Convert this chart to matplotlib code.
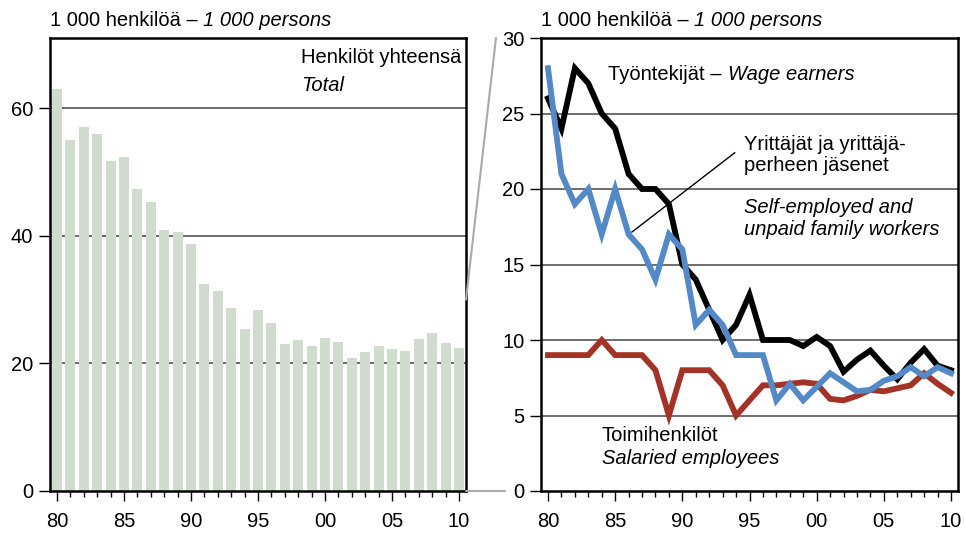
import matplotlib
matplotlib.use("Agg")
import matplotlib.pyplot as plt
from matplotlib.patches import ConnectionPatch
from matplotlib.ticker import MultipleLocator, FixedLocator

plt.rcParams['font.family'] = ['Liberation Sans', 'DejaVu Sans']

years = list(range(1980, 2011))
total = [63.0, 55.0, 57.0, 55.9, 51.8, 52.3, 47.3, 45.3, 40.9, 40.6,
         38.7, 32.4, 31.3, 28.7, 25.4, 28.3, 26.3, 23.0, 23.6, 22.7,
         24.0, 23.3, 20.8, 21.8, 22.7, 22.2, 21.9, 23.8, 24.7, 23.2, 22.4]
wage_earners = [26.0, 24.0, 28.0, 27.0, 25.0, 24.0, 21.0, 20.0, 20.0, 19.0,
                15.0, 14.0, 12.0, 10.0, 11.0, 13.0, 10.0, 10.0, 10.0, 9.6,
                10.2, 9.6, 7.9, 8.7, 9.3, 8.3, 7.4, 8.5, 9.4, 8.3, 8.0]
self_employed = [28.0, 21.0, 19.0, 20.0, 17.0, 20.0, 17.0, 16.0, 14.0, 17.0,
                 16.0, 11.0, 12.0, 11.0, 9.0, 9.0, 9.0, 6.0, 7.1, 6.0,
                 6.9, 7.8, 7.2, 6.6, 6.7, 7.3, 7.6, 8.2, 7.6, 8.2, 7.8]
salaried = [9.0, 9.0, 9.0, 9.0, 10.0, 9.0, 9.0, 9.0, 8.0, 5.0,
            8.0, 8.0, 8.0, 7.0, 5.0, 6.0, 7.0, 7.0, 7.1, 7.2,
            7.1, 6.1, 6.0, 6.3, 6.7, 6.6, 6.8, 7.0, 7.8, 7.1, 6.5]
tick_years = [1980, 1985, 1990, 1995, 2000, 2005, 2010]
tick_labels = ['80', '85', '90', '95', '00', '05', '10']

FS = 14.5
W, H = 966, 536
fig = plt.figure(figsize=(W / 100, H / 100), dpi=100)

def fx(px):
    return px / W

def fy(py):
    return 1 - py / H

ax1 = fig.add_axes([fx(50), fy(491), fx(466) - fx(50), fy(38) - fy(491)])
ax2 = fig.add_axes([fx(541), fy(491), fx(958) - fx(541), fy(38) - fy(491)])

grid_c = '#555555'

# Left bars
ax1.bar(years, total, width=0.74, color='#d0dccd', zorder=2)
ax1.set_ylim(0, 71)
ax1.set_yticks([0, 20, 40, 60])
for v in [20, 40, 60]:
    ax1.axhline(v, color=grid_c, lw=1.2, zorder=1)

# Right lines
for v in [5, 10, 15, 20, 25]:
    ax2.axhline(v, color=grid_c, lw=1.2, zorder=1)
ax2.plot(years, wage_earners, color='black', lw=4.2, zorder=3, solid_joinstyle='miter')
ax2.plot(years, salaried, color='#a33326', lw=4.2, zorder=4, solid_joinstyle='miter')
ax2.plot(years, self_employed, color='#5289c6', lw=4.2, zorder=5, solid_joinstyle='miter')
ax2.set_ylim(0, 30)
ax2.set_yticks([0, 5, 10, 15, 20, 25, 30])

for ax in (ax1, ax2):
    ax.set_xlim(1979.48, 2010.52)
    ax.xaxis.set_major_locator(FixedLocator(tick_years))
    ax.set_xticklabels(tick_labels)
    ax.xaxis.set_minor_locator(MultipleLocator(1))
    ax.tick_params(axis='x', which='major', direction='out', length=7, width=1, labelsize=FS, pad=8)
    ax.tick_params(axis='x', which='minor', direction='out', length=4, width=1)
    ax.tick_params(axis='y', which='major', direction='out', length=8, width=1, labelsize=FS, pad=4)
    for s in ax.spines.values():
        s.set_linewidth(1.8)
        s.set_color('black')
        s.set_zorder(6)

# Headers
for ax in (ax1, ax2):
    t = ax.text(0, 1.026, '1 000 henkilöä – ', transform=ax.transAxes,
                ha='left', va='baseline', fontsize=FS)
    ax.annotate('1 000 persons', xy=(1, 0), xycoords=t, ha='left', va='bottom',
                fontsize=FS, style='italic')

# Left label
ax1.text(1998.2, 68.0, 'Henkilöt yhteensä', ha='left', va='center', fontsize=FS)
ax1.text(1998.2, 63.6, 'Total', ha='left', va='center', fontsize=FS, style='italic')

# Right labels
t = ax2.text(1984.5, 27.2, 'Työntekijät – ', ha='left', va='baseline', fontsize=FS)
ax2.annotate('Wage earners', xy=(1, 0), xycoords=t, ha='left', va='bottom',
             fontsize=FS, style='italic')
ax2.text(1994.6, 22.25, 'Yrittäjät ja yrittäjä-\nperheen jäsenet', ha='left', va='center',
         fontsize=FS, linespacing=1.15)
ax2.text(1994.6, 18.05, 'Self-employed and\nunpaid family workers', ha='left', va='center',
         fontsize=FS, style='italic', linespacing=1.15)
ax2.plot([1993.9, 1986.25], [22.4, 17.15], color='black', lw=1, zorder=6)
ax2.text(1984.0, 3.65, 'Toimihenkilöt', ha='left', va='center', fontsize=FS)
ax2.text(1984.0, 2.15, 'Salaried employees', ha='left', va='center', fontsize=FS, style='italic')

# Connectors
con1 = ConnectionPatch(xyA=(1, 30 / 71), coordsA=ax1.transAxes,
                       xyB=(-0.108, 1.0), coordsB=ax2.transAxes,
                       color='#aaaaaa', lw=1.5)
con2 = ConnectionPatch(xyA=(1, 0), coordsA=ax1.transAxes,
                       xyB=(-0.086, 0.0), coordsB=ax2.transAxes,
                       color='#aaaaaa', lw=1.5)
fig.add_artist(con1)
fig.add_artist(con2)

fig.savefig('out.png', dpi=100)
